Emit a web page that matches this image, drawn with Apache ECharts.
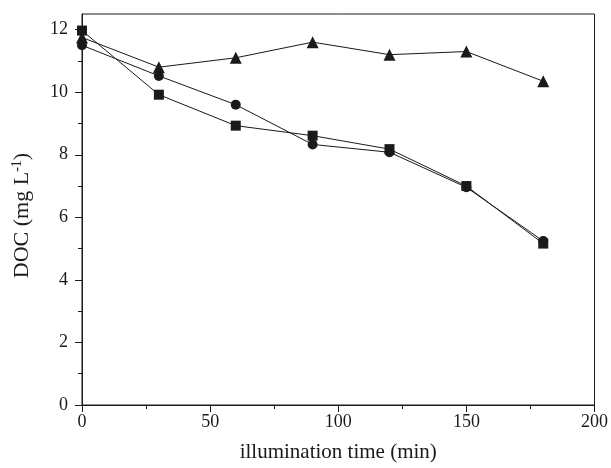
<!DOCTYPE html>
<html>
<head>
<meta charset="utf-8">
<script src="https://cdn.jsdelivr.net/npm/echarts@6/dist/echarts.min.js"></script>
<style>
  html, body { margin: 0; padding: 0; background: #fff; }
  #chart { width: 611px; height: 468px; }
</style>
</head>
<body>
<div id="chart"></div>
<script>
// illumination time (min)
var times = [0, 30, 60, 90, 120, 150, 180];
// DOC values (mg L-1) for each run
var triangleVals = [11.75, 10.8, 11.1, 11.6, 11.2, 11.3, 10.35];
var circleVals = [11.5, 10.52, 9.6, 8.33, 8.08, 6.96, 5.24];
var squareVals = [11.97, 9.92, 8.93, 8.61, 8.18, 7.0, 5.16];
var yTicks = [0, 2, 4, 6, 8, 10, 12];
var yMinorTicks = [1, 3, 5, 7, 9, 11];

var font = "Liberation Serif";
var ink = "#1a1a1a";

function pairs(vals) {
  return times.map(function (t, i) { return [t, vals[i]]; });
}

function line(name, symbol, size, vals) {
  return {
    name: name,
    type: "line",
    data: pairs(vals),
    symbol: symbol,
    symbolSize: size,
    lineStyle: { color: ink, width: 1 },
    itemStyle: { color: ink },
    animation: false
  };
}

var chart = echarts.init(document.getElementById("chart"));
chart.setOption({
  backgroundColor: "#fff",
  grid: {
    left: 82, right: 15, top: 14, bottom: 63,
    show: true, borderColor: ink, borderWidth: 1
  },
  xAxis: {
    type: "value",
    min: 0, max: 200, interval: 50,
    name: "illumination time (min)",
    nameLocation: "middle",
    nameGap: 37,
    nameTextStyle: { fontFamily: font, fontSize: 21, color: ink },
    axisLine: { lineStyle: { color: ink } },
    axisTick: { length: 7, lineStyle: { color: ink } },
    minorTick: { show: true, splitNumber: 2, length: 4, lineStyle: { color: ink } },
    axisLabel: { fontFamily: font, fontSize: 18, color: ink, margin: 8 },
    splitLine: { show: false }
  },
  yAxis: [
    {
      type: "value",
      min: 0, max: 12.5,
      name: "{a|DOC (mg L}{s|-1}{a|)}",
      nameLocation: "middle",
      nameGap: 48,
      nameTextStyle: {
        padding: [0, 12, 0, 0],
        rich: {
          a: { fontFamily: font, fontSize: 22, color: ink },
          s: { fontFamily: font, fontSize: 14, color: ink, verticalAlign: "top", padding: [0, 0, 10, 0] }
        }
      },
      axisLine: { lineStyle: { color: ink } },
      axisTick: { length: 7, customValues: yTicks, lineStyle: { color: ink } },
      axisLabel: { fontFamily: font, fontSize: 18, color: ink, margin: 14, customValues: yTicks },
      splitLine: { show: false }
    },
    {
      type: "value",
      position: "left",
      min: 0, max: 12.5,
      axisLine: { show: false },
      axisTick: { length: 4, customValues: yMinorTicks, lineStyle: { color: ink } },
      axisLabel: { show: false },
      splitLine: { show: false }
    }
  ],
  series: [
    line("triangle", "triangle", 12, triangleVals),
    line("circle", "circle", 10, circleVals),
    line("square", "rect", 10, squareVals)
  ]
});
</script>
</body>
</html>
